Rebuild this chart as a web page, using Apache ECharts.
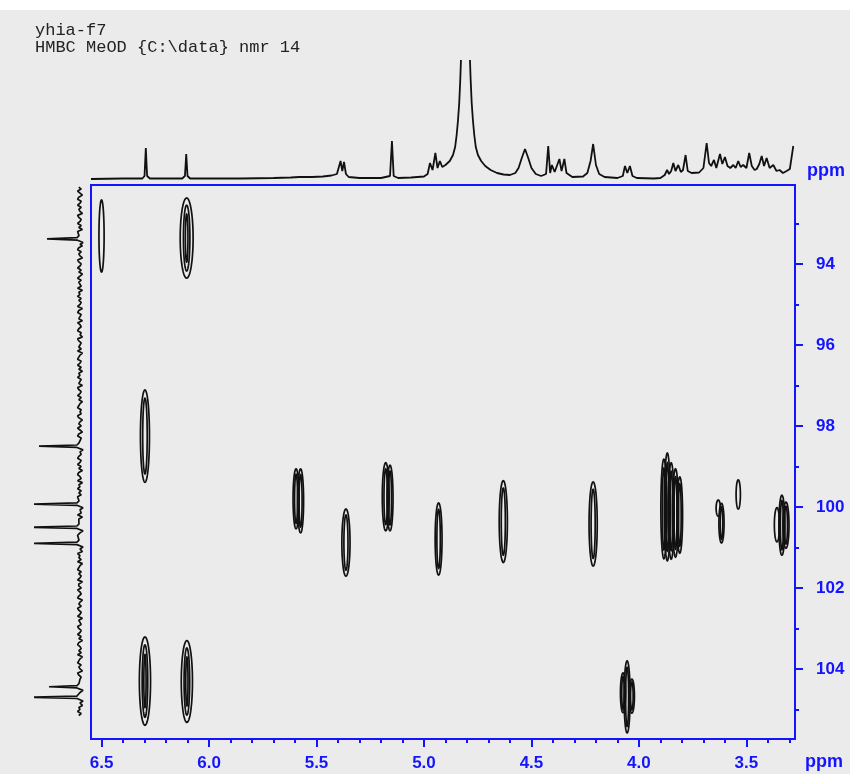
<!DOCTYPE html>
<html>
<head>
<meta charset="utf-8">
<script src="https://cdn.jsdelivr.net/npm/echarts@6/dist/echarts.min.js"></script>
<style>
html,body{margin:0;padding:0;background:#ebebeb;}
#chart{width:850px;height:774px;}
</style>
</head>
<body>
<div id="chart"></div>
<script>
// ---------- DATA ----------
var titleLines = ['yhia-f7', 'HMBC MeOD {C:\\data} nmr 14'];
var axisUnit = 'ppm';

// F2 (1H) axis range, F1 (13C) axis range
var f2Range = [3.274, 6.549];
var f1Range = [92.05, 105.73];

// tick values
var f2MajorTicks = [3.5, 4.0, 4.5, 5.0, 5.5, 6.0, 6.5];
var f2MinorTicks = [3.3, 3.4, 3.5, 3.6, 3.7, 3.8, 3.9, 4.0, 4.1, 4.2, 4.3, 4.4, 4.5, 4.6, 4.7, 4.8, 4.9, 5.0, 5.1, 5.2, 5.3, 5.4, 5.5, 5.6, 5.7, 5.8, 5.9, 6.0, 6.1, 6.2, 6.3, 6.4, 6.5];
var f1MajorTicks = [94, 96, 98, 100, 102, 104];
var f1MinorTicks = [93, 94, 95, 96, 97, 98, 99, 100, 101, 102, 103, 104, 105];

// Cross peaks: 1H shift, 13C shift, half-width (1H ppm), half-height (13C ppm), contour levels
var cpH      = [6.500, 6.104, 6.298, 6.298, 6.103, 5.595, 5.574, 5.363, 5.178, 5.158, 4.932, 4.631, 4.213, 3.884, 3.868, 3.850, 3.830, 3.810, 3.631, 3.616, 3.538, 3.358, 3.335, 3.316, 4.074, 4.055, 4.033];
var cpC      = [93.31, 93.36, 98.25, 104.30, 104.31, 99.80, 99.85, 100.88, 99.75, 99.78, 100.79, 100.36, 100.42, 100.05, 100.00, 100.10, 100.15, 100.20, 100.03, 100.40, 99.69, 100.44, 100.45, 100.45, 104.59, 104.69, 104.67];
var cpRx     = [0.012, 0.030, 0.021, 0.026, 0.026, 0.014, 0.014, 0.019, 0.016, 0.014, 0.016, 0.019, 0.019, 0.014, 0.014, 0.014, 0.014, 0.013, 0.010, 0.012, 0.010, 0.012, 0.014, 0.014, 0.012, 0.014, 0.012];
var cpRy     = [0.89, 0.99, 1.14, 1.09, 1.01, 0.74, 0.79, 0.83, 0.84, 0.81, 0.89, 1.01, 1.04, 1.23, 1.33, 1.19, 1.09, 0.94, 0.20, 0.49, 0.36, 0.42, 0.74, 0.57, 0.49, 0.89, 0.42];
var cpLevels = [1, 3, 2, 3, 3, 2, 2, 2, 2, 2, 2, 2, 2, 2, 2, 2, 2, 2, 1, 2, 1, 1, 2, 2, 2, 2, 2];

// Top projection (1H spectrum), digitised vertices
var f2Ppm = [6.549,6.40,6.31,6.300,6.294,6.288,6.275,6.125,6.112,6.106,6.100,6.088,5.85,5.70,5.62,5.58,5.52,5.47,5.43,5.405,5.388,5.380,5.372,5.363,5.35,5.30,5.20,5.158,5.149,5.141,5.12,5.06,5.00,4.983,4.972,4.960,4.947,4.937,4.926,4.915,4.90,4.88,4.865,4.855,4.848,4.842,4.836,4.831,4.827,4.787,4.783,4.778,4.772,4.766,4.759,4.749,4.734,4.715,4.69,4.66,4.63,4.60,4.575,4.56,4.545,4.530,4.515,4.50,4.48,4.455,4.432,4.422,4.413,4.405,4.399,4.392,4.383,4.370,4.360,4.347,4.337,4.31,4.26,4.24,4.225,4.213,4.200,4.185,4.16,4.10,4.075,4.065,4.054,4.042,4.030,4.01,3.93,3.90,3.880,3.869,3.860,3.850,3.840,3.830,3.817,3.805,3.795,3.783,3.773,3.755,3.72,3.70,3.685,3.674,3.664,3.651,3.640,3.623,3.612,3.600,3.588,3.575,3.561,3.550,3.538,3.527,3.515,3.500,3.487,3.475,3.462,3.452,3.440,3.429,3.418,3.406,3.392,3.375,3.360,3.346,3.330,3.313,3.298,3.282];
var f2Int = [0,0.5,0.5,3,31,3,0.5,0.5,3,25,3,0.5,0.5,1,1.5,2,2,2.5,3.5,5,18,8,17,5,2,1,1,3,38,3,1,1.5,2.5,5,16,9,26,11,18,12,14,18,24,32,44,58,76,100,125,125,100,76,58,44,32,24,18,13,9,6,4.5,4,6,11,21,30,21,11,5,3,5,33,6,14,16,7,9,20,8,20,6,2,2.5,6,18,35,14,5,2,1,3,13,6,13,3,1,0.5,1,4,9,5,8,16,8,14,7,9,24,8,6,6.5,11,36,16,13,19,11,25,15,22,13,11,14,11,18,12,14,11,26,13,9,10,15,23,13,21,11,14,8,9,6,8,10,33];

// Left projection (13C trace): peaks and baseline noise
var f1PeakPpm = [93.38, 98.50, 99.93, 100.50, 100.90, 104.44, 104.70];
var f1PeakInt = [33, 41, 50, 50, 50, 31, 50];
var f1NoiseStart = 92.1, f1NoiseStep = 0.05;
var f1Noise = [1,-1,2,0,-2,1,2,-1,0,2,-1,1,0,-2,2,1,-1,0,2,-1,1,-2,2,0,-1,1,2,-1,0,-2,1,2,-1,1,0,-2,2,1,-1,0,2,-1,1,-2,0,2,-1,1,0,-1,2,-2,1,0,2,-1,1,-1,0,2,-2,1,2,-1,0,1,-2,2,0,-1,1,2,-1,0,-2,2,1,-1,0,1,-1,2,-2,0,1,2,-1,0,2,-1,1,-2,1,0,2,-1,0,1,-2,2,1,-1,0,2,-1,1,-2,0,1,2,-1,0,-1,2,1,-2,0,1,-1,2,0,-2,1,2,-1,0,1,-1,2,-2,1,0,-1,1,2,-1,
  0,2,-1,1,-2,1,2,0,-1,2,-2,1,0,2,-1,1,-1,2,0,-2,1,1,-1,2,0,-1,2,-2,1,0,1,-1,2,1,-2,0,2,-1,1,0,-1,2,-1,1,-2,2,0,1,-1,2,-2,0,1,2,-1,1,-1,0,2,-2,1,1,-1,2,0,-1,1,2,-2,0,1,-1,2,1,-1,0,2,-2,1,0,-1,2,1,-1,0,2,-1,1,-2,1,2,0,-1,1,-1,2,-2,0,1,2,-1,1,0,-2,2,1,-1,0,1,2,-1,0,-2,1,2,-1,1,0,-1,2,-2,1,0,2,-1,1];

// ---------- BUILD ----------
var BLUE = '#1414ff';

var topData = f2Ppm.map(function (p, i) { return [p, f2Int[i]]; });

var leftPts = [];
f1Noise.forEach(function (v, i) {
  var p = f1NoiseStart + i * f1NoiseStep;
  if (p > f1Range[1]) return;
  var near = f1PeakPpm.some(function (c) { return Math.abs(c - p) < 0.16; });
  if (!near) leftPts.push([v * 1.2, p]);
});
var peakShape = [[-0.08, 1], [-0.03, 3], [0, 1], [0.03, 3], [0.09, -3], [0.14, 0]];
f1PeakPpm.forEach(function (c, i) {
  peakShape.forEach(function (s) {
    leftPts.push([s[1] === 1 && s[0] === 0 ? f1PeakInt[i] : s[1], c + s[0]]);
  });
});
leftPts.sort(function (a, b) { return a[1] - b[1]; });

var cpData = cpH.map(function (h, i) { return [h, cpC[i], cpRx[i], cpRy[i], cpLevels[i]]; });

var chart = echarts.init(document.getElementById('chart'), null, { renderer: 'canvas' });

var labelFont = { color: BLUE, fontWeight: 'bold', fontSize: 17, fontFamily: 'Liberation Sans, Arial, sans-serif' };

chart.setOption({
  backgroundColor: '#ebebeb',
  animation: false,
  graphic: [
    { type: 'rect', left: 0, top: 0, shape: { width: 850, height: 10 }, style: { fill: '#ffffff' }, silent: true },
    { type: 'text', left: 35, top: 22, style: { text: titleLines[0], fill: '#222', font: '17px "Liberation Mono", monospace' } },
    { type: 'text', left: 35, top: 39, style: { text: titleLines[1], fill: '#222', font: '17px "Liberation Mono", monospace' } },
    { type: 'text', left: 807, top: 162, style: { text: axisUnit, fill: BLUE, font: 'bold 18px "Liberation Sans", Arial, sans-serif' } },
    { type: 'text', left: 805, top: 753, style: { text: axisUnit, fill: BLUE, font: 'bold 18px "Liberation Sans", Arial, sans-serif' } }
  ],
  grid: [
    { left: 91, top: 185, width: 704, height: 554, show: true, borderColor: BLUE, borderWidth: 2, backgroundColor: 'transparent' },
    { left: 91, top: 61, width: 704, height: 118 },
    { left: 35, top: 185, width: 50, height: 554 }
  ],
  xAxis: [
    { type: 'value', gridIndex: 0, min: f2Range[0], max: f2Range[1], inverse: true, position: 'bottom',
      splitLine: { show: false }, axisLine: { show: false },
      axisTick: { show: true, length: 8, customValues: f2MajorTicks, lineStyle: { color: BLUE, width: 2 } },
      axisLabel: Object.assign({ margin: 16, customValues: f2MajorTicks, formatter: function (v) { return v.toFixed(1); } }, labelFont) },
    { type: 'value', gridIndex: 0, min: f2Range[0], max: f2Range[1], inverse: true, position: 'bottom',
      splitLine: { show: false }, axisLine: { show: false },
      axisTick: { show: true, length: 4, customValues: f2MinorTicks, lineStyle: { color: BLUE, width: 2 } },
      axisLabel: { show: false, customValues: f2MinorTicks } },
    { type: 'value', gridIndex: 1, min: f2Range[0], max: f2Range[1], inverse: true, show: false },
    { type: 'value', gridIndex: 2, min: -5, max: 45, inverse: true, show: false }
  ],
  yAxis: [
    { type: 'value', gridIndex: 0, min: f1Range[0], max: f1Range[1], inverse: true, position: 'right',
      splitLine: { show: false }, axisLine: { show: false },
      axisTick: { show: true, length: 8, customValues: f1MajorTicks, lineStyle: { color: BLUE, width: 2 } },
      axisLabel: Object.assign({ margin: 21, customValues: f1MajorTicks }, labelFont) },
    { type: 'value', gridIndex: 0, min: f1Range[0], max: f1Range[1], inverse: true, position: 'right',
      splitLine: { show: false }, axisLine: { show: false },
      axisTick: { show: true, length: 4, customValues: f1MinorTicks, lineStyle: { color: BLUE, width: 2 } },
      axisLabel: { show: false, customValues: f1MinorTicks } },
    { type: 'value', gridIndex: 1, min: 0, max: 118, show: false },
    { type: 'value', gridIndex: 2, min: f1Range[0], max: f1Range[1], inverse: true, show: false }
  ],
  series: [
    {
      type: 'custom', xAxisIndex: 0, yAxisIndex: 0, clip: true,
      encode: { x: 0, y: 1 },
      data: cpData,
      renderItem: function (params, api) {
        var h = api.value(0), c = api.value(1), rx = api.value(2), ry = api.value(3), lv = api.value(4);
        var ctr = api.coord([h, c]);
        var sz = api.size([rx, ry], [h, c]);
        var scales = [[1, 1], [0.5, 0.82], [0.2, 0.6]];
        var children = [];
        for (var k = 0; k < lv; k++) {
          var sx = sz[0] * scales[k][0], sy = sz[1] * scales[k][1];
          var pts = [];
          for (var t = 0; t < 64; t++) {
            var a = t / 64 * 2 * Math.PI;
            pts.push([ctr[0] + sx * Math.cos(a), ctr[1] + sy * Math.sin(a)]);
          }
          children.push({ type: 'polygon', shape: { points: pts }, style: { fill: 'none', stroke: '#111', lineWidth: 1.7 } });
        }
        return { type: 'group', children: children };
      }
    },
    {
      type: 'line', xAxisIndex: 2, yAxisIndex: 2, data: topData, showSymbol: false, clip: true,
      lineStyle: { color: '#111', width: 1.8 }
    },
    {
      type: 'line', xAxisIndex: 3, yAxisIndex: 3, data: leftPts, showSymbol: false, clip: true,
      lineStyle: { color: '#111', width: 1.7 }
    }
  ]
});
</script>
</body>
</html>
